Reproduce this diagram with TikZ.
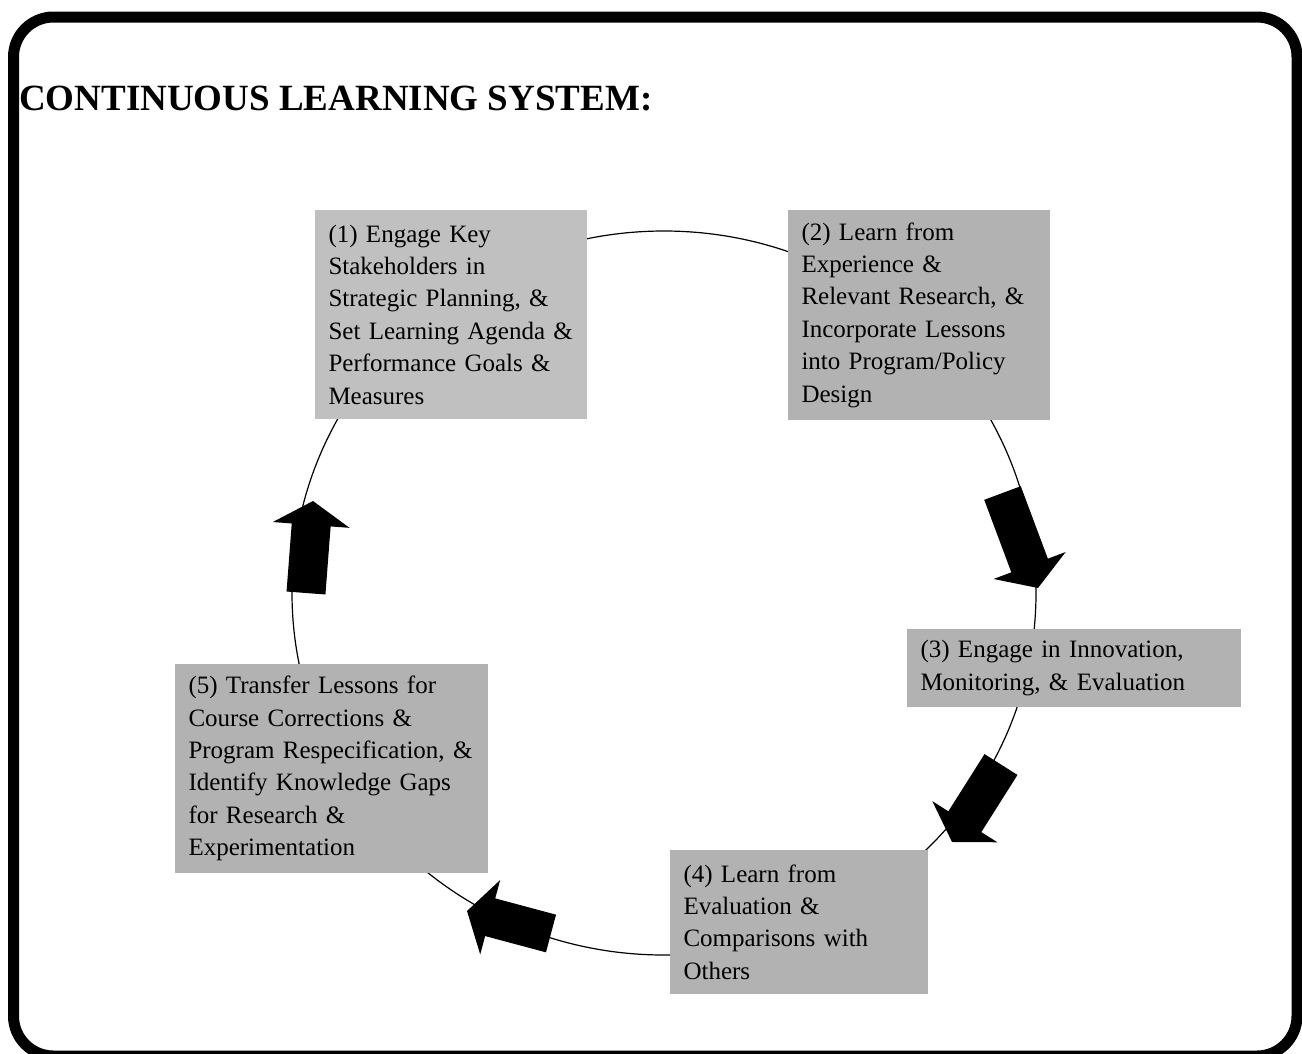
\documentclass[tikz,border=0pt]{standalone}
\usepackage{fontspec}
\setmainfont{Liberation Serif}
\usepackage{xcolor}
\usetikzlibrary{shapes,arrows,positioning}

\definecolor{stagelight}{gray}{0.753}
\definecolor{stagegray}{gray}{0.70}

\tikzset{
    stage/.style={fill=stagegray, inner xsep=13.5pt, inner ysep=0pt, align=left,
                  font=\fontsize{25}{32.4}\selectfont},
}

\begin{document}
\begin{tikzpicture}[x=1pt, y=-1pt]
    \useasboundingbox (0,0) rectangle (1302,1053);

    % Frame
    \draw[line width=11pt, rounded corners=40pt] (13.5,17) rectangle (1297,1056);

    % Title
    \node[anchor=base west, inner sep=0pt, font=\fontsize{37}{44}\selectfont\bfseries]
        (title) at (19,110) {CONTINUOUS LEARNING SYSTEM:};

    % Cycle
    \draw[line width=1.2pt] (664,593) ellipse [x radius=372, y radius=362];

    % Stages
    \node[stage, fill=stagelight, text width=245pt, minimum height=209pt] (engage) at (451,314.5)
        {(1) Engage Key\\Stakeholders in\\Strategic Planning, \&\\Set Learning Agenda \&\\Performance Goals \&\\Measures};
    \node[stage, text width=235pt, minimum height=210pt] (learnexp) at (919,315)
        {(2) Learn from\\Experience \&\\Relevant Research, \&\\Incorporate Lessons\\into Program/Policy\\Design};
    \node[stage, text width=307pt, minimum height=78pt] (innovate) at (1074,668)
        {(3) Engage in Innovation,\\Monitoring, \& Evaluation};
    \node[stage, text width=231pt, minimum height=144pt] (learneval) at (799,922)
        {(4) Learn from\\Evaluation \&\\Comparisons with\\Others};
    \node[stage, text width=286pt, minimum height=209pt] (transfer) at (331.5,768.5)
        {(5) Transfer Lessons for\\Course Corrections \&\\Program Respecification, \&\\Identify Knowledge Gaps\\for Research \&\\Experimentation};

    % Block arrows along the cycle (tail middle / tip)
    \foreach \sx/\sy/\tx/\ty in {306/593/313/501, 1002.5/493/1038/588,
                                 1001/764.5/952/842, 551/933.5/467/911} {
        \pgfmathsetmacro{\ang}{atan2(\sy-\ty,\tx-\sx)}
        \pgfmathsetmacro{\len}{veclen(\tx-\sx,\ty-\sy)}
        \fill[shift={(\sx,\sy)}, rotate=\ang]
            (0,-19.5) -- (\len-24,-19.5) -- (\len-24,-38.5) -- (\len,0)
            -- (\len-24,38.5) -- (\len-24,19.5) -- (0,19.5) -- cycle;
    }
\end{tikzpicture}
\end{document}
